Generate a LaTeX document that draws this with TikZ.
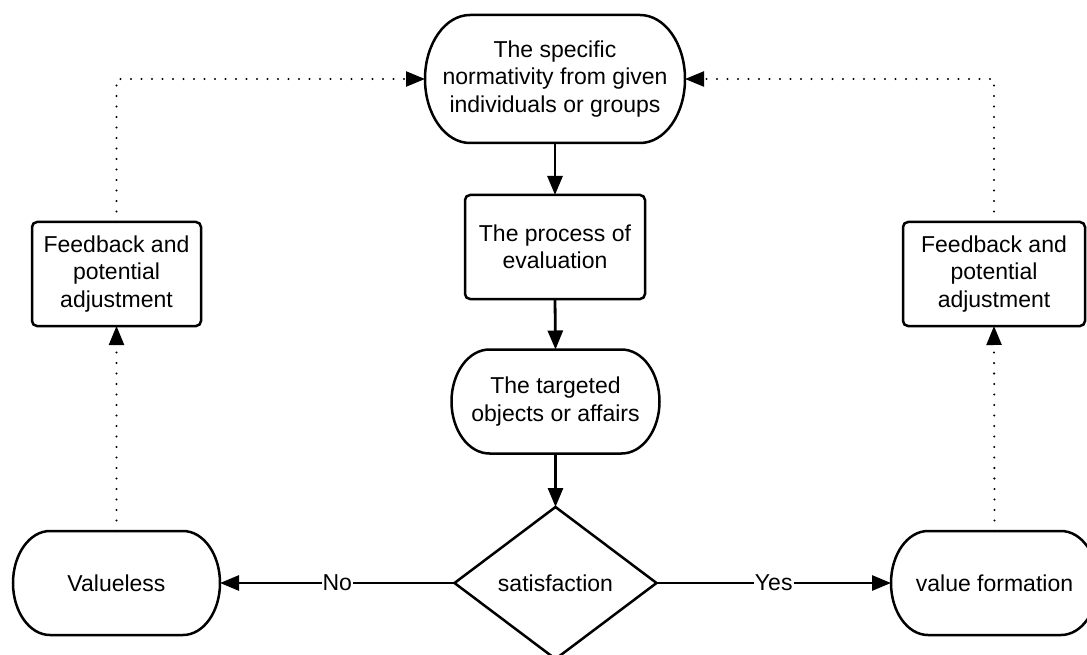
\documentclass[tikz,border=0pt]{standalone}
\usepackage{fontspec}
\setmainfont{Liberation Sans}
\usetikzlibrary{shapes.geometric,arrows.meta,calc}
\tikzset{
  txtbase/.style={font=\fontsize{23}{27.5}\selectfont, align=center, inner sep=0pt, outer sep=0pt},
  termnode/.style={txtbase, rectangle},
  boxnode/.style={txtbase, rectangle, draw, line width=2.5pt, rounded corners=5pt},
  decision/.style={txtbase, diamond, draw, line width=2.5pt, minimum width=202pt, minimum height=152pt},
  shapeline/.style={draw, line width=2.5pt},
  flow/.style={line width=2.8pt, -{Triangle[length=19pt,width=15pt]}},
  fbline/.style={line width=2.3pt, line cap=round, dash pattern=on 0pt off 10.5pt, -{Triangle[length=19pt,width=15pt]}},
  lbl/.style={txtbase, fill=white, inner xsep=1pt, inner ysep=2pt}
}
\newcommand\termoutline[3]{%
  \draw[shapeline] ($(#1.north west)+(#2,0)$) -- ($(#1.north east)+(-#2,0)$)
    arc[start angle=90,end angle=-90,x radius=#2pt,y radius=#3pt]
    -- ($(#1.south west)+(#2,0)$)
    arc[start angle=270,end angle=90,x radius=#2pt,y radius=#3pt] -- cycle;}
\begin{document}
\begin{tikzpicture}[x=1pt,y=1pt]
\clip (0,0) rectangle (1087,-655);
\fill[white] (0,0) rectangle (1087,-655);

\node[termnode, minimum width=260pt, minimum height=128pt] (top) at (555,-79)
  {The specific\\normativity from given\\individuals or groups};
\termoutline{top}{45}{64}

\node[boxnode, minimum width=180pt, minimum height=104pt] (proc) at (555,-247)
  {The process of\\evaluation};

\node[termnode, minimum width=208pt, minimum height=104pt] (targ) at (555.5,-401.5)
  {The targeted\\objects or affairs};
\termoutline{targ}{38}{52}

\node[decision] (dec) at (555.5,-583) {satisfaction};

\node[termnode, minimum width=207pt, minimum height=104pt] (val) at (116.5,-583) {Valueless};
\termoutline{val}{37}{52}

\node[termnode, minimum width=207pt, minimum height=104pt] (form) at (994.5,-583) {value formation};
\termoutline{form}{37}{52}

\node[boxnode, minimum width=169pt, minimum height=104pt] (fbL) at (116.5,-274)
  {Feedback and\\potential\\adjustment};
\node[boxnode, minimum width=182pt, minimum height=104pt] (fbR) at (994,-274)
  {Feedback and\\potential\\adjustment};

\draw[flow] (top.south) -- (proc.north);
\draw[flow] (proc.south) -- (targ.north);
\draw[flow] (targ.south) -- (dec.north);
\draw[flow] (dec.west) -- node[lbl] {No} (val.east);
\draw[flow] (dec.east) -- node[lbl] {Yes} (form.west);

\draw[fbline] (val.north) -- (fbL.south);
\draw[fbline] (form.north) -- (fbR.south);
\draw[fbline] (fbL.north) |- (top.west);
\draw[fbline] (fbR.north) |- (top.east);
\end{tikzpicture}
\end{document}
